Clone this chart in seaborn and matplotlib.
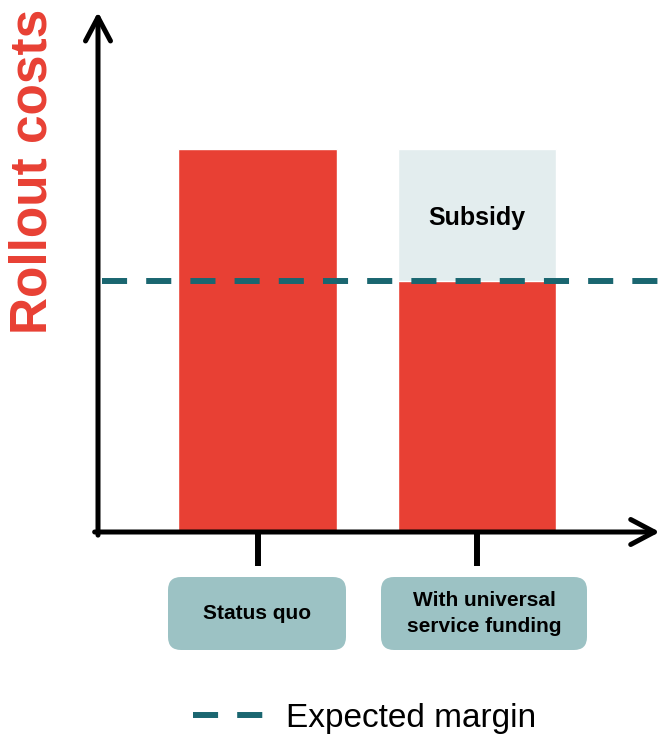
import matplotlib
matplotlib.use("Agg")
import matplotlib.pyplot as plt
from matplotlib.patches import FancyBboxPatch
from matplotlib.lines import Line2D
import seaborn as sns
import pandas as pd

# ---- data ----
categories = ["Status quo", "With universal\nservice funding"]
total_cost = [100, 100]          # full height of bars (rollout costs)
net_cost = [100, 65.5]           # red part (cost borne by operator)
expected_margin = 65.5
subsidy_label = "Subsidy"
y_label = "Rollout costs"
legend_label = "Expected margin"

RED = "#E84034"
LIGHT = "#E3EDEE"
TEAL = "#1A6670"
BOX = "#9CC2C4"

sns.set_style("white")
plt.rcParams["font.family"] = ["Liberation Sans", "DejaVu Sans"]
plt.rcParams["text.color"] = "black"

W, H = 661, 736
fig = plt.figure(figsize=(W / 100, H / 100), dpi=100)
ax_left, ax_right, ax_top, ax_bottom = 98, 658, 12, 532
ax = fig.add_axes([ax_left / W, (H - ax_bottom) / H,
                   (ax_right - ax_left) / W, (ax_bottom - ax_top) / H])

df = pd.DataFrame({"cat": categories, "total": total_cost, "net": net_cost})
bar_w = 0.724
sns.barplot(data=df, x="cat", y="total", hue="cat", palette=[RED, LIGHT],
            legend=False, width=bar_w, saturation=1, ax=ax, zorder=1)
sns.barplot(data=df, x="cat", y="net", color=RED, width=bar_w,
            saturation=1, ax=ax, zorder=2)

# subsidy label
ax.text(1, 82.0, subsidy_label, ha="center",
        va="center", fontsize=18, fontweight="bold", color="black", zorder=5)

# expected margin dashed line
ax.axhline(expected_margin, xmin=0.008, xmax=1.0, color=TEAL, lw=4.3,
           dashes=(4.2, 3.2), dash_capstyle="butt", zorder=4, clip_on=False)

# limits
ax.set_xlim(-0.7267, 1.8246)
ax.set_ylim(0, 135.8)

for s in ax.spines.values():
    s.set_visible(False)
ax.set_xlabel("")
ax.set_ylabel("")
ax.set_yticks([])
ax.set_xticks([0, 1])
ax.set_xticklabels(["", ""])
ax.tick_params(axis="x", bottom=True, length=24.5, width=4.3, color="black",
               direction="out")

# axis arrows
arrow = dict(arrowstyle="->,head_length=0.85,head_width=0.45", lw=3.6,
             color="black", shrinkA=0, shrinkB=0, mutation_scale=20)
ax.annotate("", xy=(0, 1), xytext=(0, -0.006), xycoords="axes fraction",
            arrowprops=arrow, annotation_clip=False)
ax.annotate("", xy=(1.003, 0), xytext=(-0.006, 0), xycoords="axes fraction",
            arrowprops=arrow, annotation_clip=False)

# y label
fig.text(33 / W, 1 - 171 / H, y_label, rotation=90, ha="center", va="center",
         fontsize=37, fontweight="bold", color=RED)

# category boxes
boxes = [(168, 346), (381, 587)]
by0, by1 = 577, 650
for (x0, x1), lab in zip(boxes, categories):
    p = FancyBboxPatch((x0 / 100, (H - by1) / 100), (x1 - x0) / 100,
                       (by1 - by0) / 100,
                       boxstyle="round,pad=0,rounding_size=0.13",
                       transform=fig.dpi_scale_trans, facecolor=BOX,
                       edgecolor="none")
    fig.add_artist(p)
    fig.text((x0 + x1) / 2 / W, 1 - (by0 + by1) / 2 / H, lab, ha="center",
             va="center", fontsize=15, fontweight="bold", color="black",
             linespacing=1.45)

# legend
handle = Line2D([], [], color=TEAL, lw=4.3, dashes=(4.2, 3.2),
                dash_capstyle="butt")
fig.legend([handle], [legend_label], loc="center",
           bbox_to_anchor=(365 / W, 1 - 718 / H), frameon=False, fontsize=24,
           handlelength=2.1, handletextpad=0.69, borderpad=0,
           labelcolor="black")

fig.savefig("out.png", dpi=100)
